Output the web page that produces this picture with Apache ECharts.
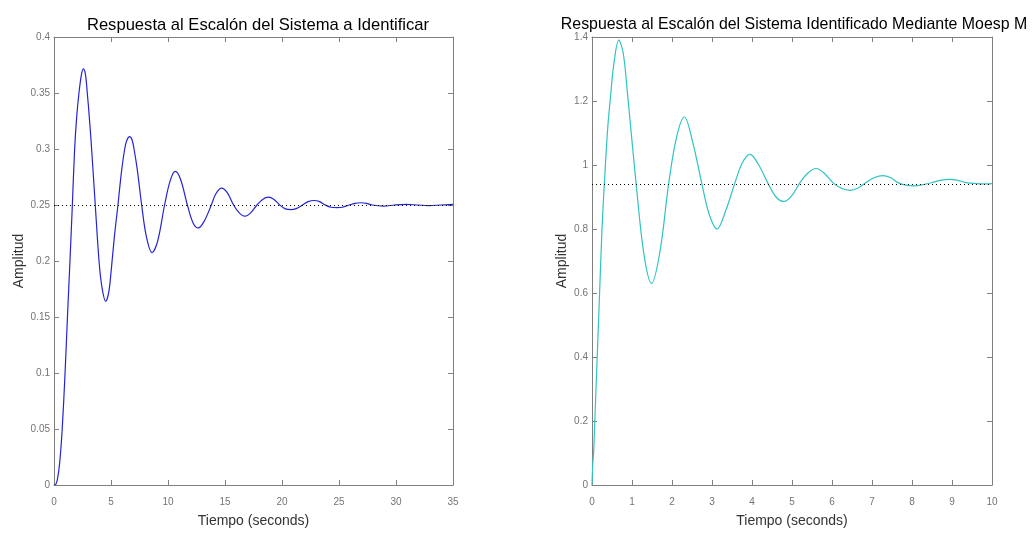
<!DOCTYPE html>
<html>
<head>
<meta charset="utf-8">
<script src="https://cdn.jsdelivr.net/npm/echarts@6/dist/echarts.min.js"></script>
<style>
  html, body { margin: 0; padding: 0; background: #fff; }
  #chart { width: 1032px; height: 533px; }
</style>
</head>
<body>
<div id="chart"></div>
<script>
// sistema a identificar (left)
const timeLeft = [0, 0.15, 0.3, 0.5, 0.72, 0.97, 1.18, 1.4, 1.61, 1.81, 2.0, 2.19, 2.4, 2.57, 2.75, 2.92, 3.1, 3.3, 3.62, 3.95, 4.2, 4.53, 4.8, 5.03, 5.3, 5.61, 5.9, 6.2, 6.4, 6.64, 6.85, 7.02, 7.3, 7.69, 8.1, 8.6, 9.1, 9.7, 10.2, 10.64, 11.1, 11.7, 12.2, 12.66, 13.2, 13.8, 14.2, 14.7, 15.2, 15.75, 16.25, 16.75, 17.25, 17.8, 18.3, 18.8, 19.3, 19.8, 20.3, 20.8, 21.3, 21.8, 22.3, 22.8, 23.3, 23.8, 24.3, 24.85, 25.3, 25.9, 26.4, 26.9, 27.4, 27.9, 28.9, 29.9, 30.9, 31.9, 32.9, 33.9, 35]
const ampLeft = [0, 0.0005, 0.005, 0.02, 0.05, 0.1, 0.15, 0.2, 0.25, 0.3, 0.33, 0.35, 0.366, 0.3715, 0.367, 0.35, 0.328, 0.3, 0.25, 0.2, 0.177, 0.164, 0.172, 0.193, 0.222, 0.25, 0.278, 0.3, 0.308, 0.311, 0.308, 0.3, 0.282, 0.25, 0.222, 0.2075, 0.218, 0.25, 0.272, 0.28, 0.273, 0.25, 0.234, 0.2295, 0.236, 0.25, 0.26, 0.265, 0.261, 0.25, 0.243, 0.24, 0.243, 0.25, 0.255, 0.257, 0.255, 0.25, 0.2465, 0.2458, 0.247, 0.25, 0.253, 0.254, 0.253, 0.25, 0.248, 0.2476, 0.248, 0.25, 0.2515, 0.252, 0.2515, 0.25, 0.249, 0.25, 0.2505, 0.25, 0.2495, 0.25, 0.2505]
const finalLeft = 0.25

// sistema identificado mediante moesp (right)
const timeRight = [0, 0.02, 0.04, 0.07, 0.13, 0.19, 0.25, 0.31, 0.39, 0.46, 0.55, 0.67, 0.78, 0.89, 1.1, 1.3, 1.49, 1.7, 1.92, 2.12, 2.31, 2.52, 2.74, 2.93, 3.125, 3.35, 3.575, 3.76, 3.95, 4.17, 4.39, 4.6, 4.8, 5.0, 5.2, 5.4, 5.6, 5.8, 6.02, 6.22, 6.45, 6.65, 6.85, 7.05, 7.27, 7.47, 7.65, 7.85, 8.04, 8.25, 8.5, 8.7, 8.94, 9.15, 9.35, 9.6, 9.85, 10]
const ampRight = [0, 0.07, 0.1, 0.2, 0.4, 0.6, 0.8, 0.945, 1.11, 1.21, 1.32, 1.39, 1.35, 1.22, 0.945, 0.72, 0.63, 0.73, 0.945, 1.09, 1.15, 1.07, 0.945, 0.846, 0.8, 0.86, 0.945, 1.007, 1.033, 1.0, 0.945, 0.9, 0.886, 0.905, 0.945, 0.975, 0.989, 0.975, 0.945, 0.928, 0.921, 0.928, 0.945, 0.96, 0.967, 0.96, 0.945, 0.937, 0.935, 0.938, 0.945, 0.952, 0.955, 0.952, 0.945, 0.942, 0.941, 0.942]
const finalRight = 0.945

const xTicksLeft = { min: 0, max: 35, interval: 5 }
const yTicksLeft = { min: 0, max: 0.4, interval: 0.05 }
const xTicksRight = { min: 0, max: 10, interval: 1 }
const yTicksRight = { min: 0, max: 1.4, interval: 0.2 }

const titles = ['Respuesta al Escalón del Sistema a Identificar', 'Respuesta al Escalón del Sistema Identificado Mediante Moesp M']

const boxColor = '#7f7f7f'
const font = 'Liberation Sans, Arial, sans-serif'

function pairs(xs, ys) {
  return xs.map((x, i) => [x, ys[i]])
}

function xAxes(gridIndex, ticks) {
  const common = {
    type: 'value', gridIndex: gridIndex,
    min: ticks.min, max: ticks.max, interval: ticks.interval,
    splitLine: { show: false },
    axisLine: { onZero: false, lineStyle: { color: boxColor, width: 1 } },
    axisTick: { inside: true, length: 5, lineStyle: { color: boxColor } }
  }
  return [
    Object.assign({}, common, {
      position: 'bottom',
      axisLabel: { color: '#757575', fontSize: 10, fontFamily: font, margin: 12 },
      name: 'Tiempo (seconds)', nameLocation: 'middle', nameGap: 29,
      nameTextStyle: { color: '#333', fontSize: 14, fontFamily: font }
    }),
    Object.assign({}, common, { position: 'top', axisLabel: { show: false } })
  ]
}

function yAxes(gridIndex, ticks, gap) {
  const common = {
    type: 'value', gridIndex: gridIndex,
    min: ticks.min, max: ticks.max, interval: ticks.interval,
    splitLine: { show: false },
    axisLine: { show: true, onZero: false, lineStyle: { color: boxColor, width: 1 } },
    axisTick: { show: true, inside: true, length: 5, lineStyle: { color: boxColor } }
  }
  return [
    Object.assign({}, common, {
      position: 'left',
      axisLabel: { color: '#757575', fontSize: 10, fontFamily: font, margin: 4 },
      name: 'Amplitud', nameLocation: 'middle', nameGap: gap, nameRotate: 90,
      nameTextStyle: { color: '#333', fontSize: 14, fontFamily: font }
    }),
    Object.assign({}, common, { position: 'right', axisLabel: { show: false } })
  ]
}

function stepSeries(idx, xs, ys, color, finalValue) {
  return {
    type: 'line', xAxisIndex: idx * 2, yAxisIndex: idx * 2,
    data: pairs(xs, ys),
    smooth: 0.35,
    showSymbol: false,
    lineStyle: { color: color, width: 1.2 },
    animation: false,
    markLine: {
      silent: true, symbol: 'none', animation: false,
      label: { show: false },
      lineStyle: { color: '#000', type: [1, 3], width: 1 },
      data: [{ yAxis: finalValue }]
    }
  }
}

const chart = echarts.init(document.getElementById('chart'))
chart.setOption({
  backgroundColor: '#fff',
  animation: false,
  title: [
    { text: titles[0], left: 253, top: 12, textAlign: 'center',
      textStyle: { color: '#000', fontSize: 16.6, fontWeight: 'normal', fontFamily: font } },
    { text: titles[1], left: 789, top: 12, textAlign: 'center',
      textStyle: { color: '#000', fontSize: 15.9, fontWeight: 'normal', fontFamily: font } }
  ],
  grid: [
    { left: 54, top: 37, width: 399, height: 448 },
    { left: 592, top: 37, width: 400, height: 448 }
  ],
  xAxis: xAxes(0, xTicksLeft).concat(xAxes(1, xTicksRight)),
  yAxis: yAxes(0, yTicksLeft, 28).concat(yAxes(1, yTicksRight, 23)),
  series: [
    stepSeries(0, timeLeft, ampLeft, '#2424d4', finalLeft),
    stepSeries(1, timeRight, ampRight, '#2ec4c0', finalRight)
  ]
})
</script>
</body>
</html>
